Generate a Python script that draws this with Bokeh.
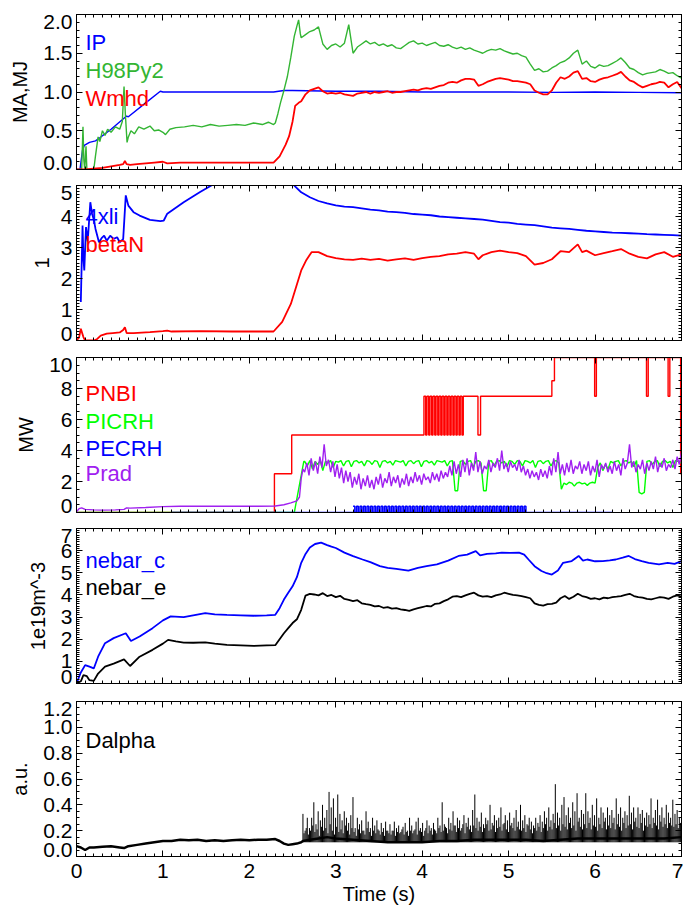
import numpy as np
from bokeh.plotting import figure
from bokeh.layouts import column
from bokeh.models import (Range1d, Label, LinearAxis, FixedTicker,
                          NumeralTickFormatter)
from bokeh.embed import file_html
from bokeh.resources import INLINE

# ------------------------------------------------------------------ data
# Panel 1 (MA,MJ)
ip = [(0.0, 0.0), (0.04, 0.0), (0.07, 0.25), (0.09, 0.31), (0.15, 0.35), (0.22, 0.37),
      (0.27, 0.41), (0.4, 0.52), (0.58, 0.69), (0.6, 0.68), (0.8, 0.86), (0.97, 1.01),
      (1.0, 1.0), (1.5, 1.0), (2.0, 1.0), (2.28, 1.0), (2.4, 1.02), (2.5, 1.02), (3.0, 1.01),
      (3.5, 1.01), (4.0, 1.0), (4.5, 1.0), (5.0, 1.0), (5.5, 0.995), (6.0, 1.0), (6.5, 0.995),
      (7.0, 0.99)]
h98_early = [(0.0, 0.0), (0.06, 0.0), (0.075, 0.55), (0.085, 0.12), (0.095, 0.0), (0.11, 0.3),
             (0.12, 0.0), (0.2, 0.0), (0.22, 0.18), (0.25, 0.42), (0.27, 0.36), (0.3, 0.5),
             (0.33, 0.44), (0.36, 0.52), (0.4, 0.48), (0.45, 0.55), (0.5, 0.52), (0.53, 0.62),
             (0.55, 1.07), (0.565, 0.72), (0.585, 0.35), (0.6, 0.42), (0.63, 0.5), (0.67, 0.46),
             (0.72, 0.55), (0.78, 0.52), (0.85, 0.56), (0.9, 0.5), (0.95, 0.51), (1.0, 0.48),
             (1.03, 0.45), (1.08, 0.52), (1.15, 0.54), (1.25, 0.55), (1.35, 0.57), (1.45, 0.55),
             (1.55, 0.58), (1.65, 0.56), (1.75, 0.57), (1.85, 0.58), (1.95, 0.57), (2.05, 0.6),
             (2.15, 0.58), (2.22, 0.61), (2.28, 0.58), (2.3, 0.6), (2.33, 0.72), (2.36, 0.86),
             (2.4, 1.02), (2.44, 1.2), (2.48, 1.45), (2.52, 1.72), (2.55, 1.85), (2.57, 1.93),
             (2.59, 1.75)]
h98_late = [1.70, 1.74, 1.78, 1.80, 1.84, 1.62, 1.55, 1.60, 1.62, 1.58,
            1.63, 1.87, 1.50, 1.58, 1.62, 1.66, 1.62, 1.64, 1.60, 1.62,
            1.59, 1.61, 1.57, 1.56, 1.60, 1.64, 1.66, 1.62, 1.63, 1.60,
            1.62, 1.64, 1.60, 1.59, 1.61, 1.58, 1.56, 1.58, 1.55, 1.57,
            1.54, 1.52, 1.50, 1.53, 1.55, 1.54, 1.56, 1.53, 1.51, 1.49,
            1.50, 1.47, 1.45, 1.36, 1.28, 1.30, 1.26, 1.27, 1.31, 1.34,
            1.38, 1.40, 1.44, 1.50, 1.54, 1.36, 1.40, 1.33, 1.31, 1.35,
            1.33, 1.34, 1.37, 1.40, 1.44, 1.38, 1.31, 1.29, 1.25, 1.22,
            1.24, 1.25, 1.26, 1.29, 1.27, 1.24, 1.25, 1.21, 1.18]
wmhd_early = [(0.0, 0.0), (0.1, 0.0), (0.2, 0.01), (0.3, 0.02), (0.4, 0.04), (0.5, 0.06),
              (0.54, 0.07), (0.56, 0.11), (0.58, 0.07), (0.62, 0.06), (0.7, 0.07), (0.8, 0.08),
              (0.9, 0.09), (1.0, 0.1), (1.05, 0.08), (1.2, 0.09), (1.5, 0.09), (1.8, 0.09),
              (2.1, 0.09), (2.28, 0.09), (2.35, 0.17), (2.42, 0.32), (2.46, 0.43), (2.5, 0.62),
              (2.53, 0.82), (2.57, 0.86)]
wmhd_late = [0.88, 0.97, 1.02, 1.04, 1.06, 1.01, 0.98, 0.99, 0.98, 0.99,
             0.97, 0.96, 0.95, 0.98, 0.99, 1.00, 0.98, 1.00, 0.99, 1.00,
             1.01, 0.99, 1.00, 1.00, 1.01, 1.02, 1.03, 1.02, 1.04, 1.05,
             1.04, 1.06, 1.08, 1.09, 1.12, 1.13, 1.12, 1.15, 1.17, 1.17,
             1.16, 1.08, 1.10, 1.13, 1.15, 1.17, 1.18, 1.17, 1.16, 1.14,
             1.14, 1.13, 1.12, 1.10, 1.02, 0.99, 0.97, 0.97, 1.02, 1.12,
             1.19, 1.17, 1.20, 1.25, 1.27, 1.17, 1.18, 1.14, 1.13, 1.16,
             1.18, 1.19, 1.21, 1.23, 1.26, 1.20, 1.15, 1.13, 1.09, 1.06,
             1.08, 1.10, 1.11, 1.13, 1.12, 1.06, 1.10, 1.13, 1.05]

# Panel 2 (1)
xli_early = [(0.05, 1.24), (0.07, 3.71), (0.08, 2.65), (0.09, 2.26), (0.11, 3.66), (0.13, 3.2),
             (0.16, 4.46), (0.18, 4.09), (0.2, 3.9), (0.22, 3.6), (0.26, 3.17), (0.29, 3.3),
             (0.32, 3.38), (0.35, 3.22), (0.39, 3.38), (0.43, 3.28), (0.47, 3.33), (0.5, 3.17),
             (0.54, 3.27), (0.57, 4.68), (0.6, 4.35), (0.66, 4.14), (0.73, 4.03), (0.85, 3.89),
             (0.97, 3.85), (1.01, 3.87), (1.05, 4.09), (1.24, 4.46), (1.43, 4.79), (1.56, 5.0),
             (1.8, 5.4), (2.1, 5.7), (2.3, 5.8), (2.4, 5.6)]
xli_late = [5.05, 4.78, 4.62, 4.50, 4.42, 4.36, 4.32, 4.30, 4.26, 4.22,
            4.20, 4.16, 4.14, 4.12, 4.08, 4.06, 4.04, 4.00, 3.98, 3.96,
            3.94, 3.92, 3.90, 3.86, 3.82, 3.80, 3.76, 3.74, 3.72, 3.68,
            3.64, 3.62, 3.60, 3.57, 3.54, 3.52, 3.50, 3.48, 3.47, 3.46,
            3.45, 3.43, 3.42, 3.41, 3.40, 3.38]
betan = [(0.0, 0.0), (0.03, 0.1), (0.05, 0.38), (0.08, 0.11), (0.1, 0.0), (0.2, 0.0),
         (0.24, 0.05), (0.28, 0.16), (0.35, 0.22), (0.42, 0.24), (0.5, 0.26), (0.54, 0.34),
         (0.56, 0.43), (0.58, 0.24), (0.66, 0.24), (0.85, 0.27), (1.0, 0.3), (1.05, 0.32),
         (1.1, 0.29), (1.43, 0.3), (1.8, 0.29), (2.1, 0.29), (2.28, 0.29), (2.38, 0.6),
         (2.48, 1.18), (2.6, 2.26), (2.66, 2.6), (2.72, 2.85), (2.8, 2.85), (2.9, 2.72),
         (3.0, 2.66), (3.1, 2.62), (3.2, 2.6), (3.3, 2.64), (3.4, 2.6), (3.5, 2.63), (3.6, 2.58),
         (3.7, 2.62), (3.8, 2.65), (3.9, 2.6), (4.0, 2.66), (4.1, 2.7), (4.2, 2.72), (4.3, 2.78),
         (4.4, 2.8), (4.5, 2.85), (4.6, 2.8), (4.65, 2.62), (4.7, 2.75), (4.8, 2.85), (4.9, 2.9),
         (5.0, 2.85), (5.1, 2.82), (5.2, 2.72), (5.3, 2.45), (5.4, 2.5), (5.5, 2.62), (5.6, 2.88),
         (5.7, 2.85), (5.8, 3.1), (5.85, 2.85), (5.9, 2.9), (6.0, 2.75), (6.1, 2.82), (6.2, 2.88),
         (6.3, 2.95), (6.4, 2.8), (6.5, 2.7), (6.6, 2.65), (6.7, 2.78), (6.8, 2.85), (6.9, 2.7),
         (7.0, 2.78)]

# Panel 3 (MW)
pnbi_t = [0.0, 2.29, 2.49, 4.02, 4.04, 4.055, 4.075, 4.09, 4.11, 4.125, 4.145, 4.16, 4.18,
          4.195, 4.215, 4.23, 4.25, 4.265, 4.285, 4.30, 4.32, 4.335, 4.355, 4.37, 4.39,
          4.405, 4.425, 4.44, 4.46, 4.475, 4.645, 4.675, 5.50, 5.53, 5.995, 6.015, 6.595,
          6.615, 6.845, 6.865, 6.99, 7.0]
pnbi_v = [0.0, 2.5, 5.0, 7.5, 5.0, 7.5, 5.0, 7.5, 5.0, 7.5, 5.0, 7.5, 5.0,
          7.5, 5.0, 7.5, 5.0, 7.5, 5.0, 7.5, 5.0, 7.5, 5.0, 7.5, 5.0,
          7.5, 5.0, 7.5, 5.0, 7.5, 5.0, 7.5, 8.5, 10.0, 7.5, 10.0, 7.5,
          10.0, 7.5, 10.0, 2.5, 2.5]
picrh_early = [(0.0, 0.0), (1.1, 0.0), (2.52, 0.0), (2.58, 1.8), (2.63, 3.3)]
picrh_late = [3.3, 3.0, 3.35, 2.8, 3.3, 3.1, 3.35, 2.7, 3.3, 3.2,
              3.35, 2.9, 3.3, 3.25, 3.35, 3.0, 3.3, 3.35, 2.95, 3.3,
              3.35, 3.2, 3.3, 3.0, 3.35, 3.3, 3.1, 3.35, 3.3, 2.9,
              3.3, 3.35, 3.2, 3.3, 3.05, 3.35, 3.3, 3.25, 3.35, 3.0,
              3.3, 3.35, 3.15, 3.3, 3.35, 2.95, 3.3, 3.35, 3.2, 3.3,
              3.05, 3.35, 3.3, 3.25, 3.35, 3.0, 3.3, 3.35, 1.4, 1.4,
              3.3, 3.35, 3.1, 3.3, 3.35, 2.9, 3.3, 3.35, 3.2, 1.4,
              1.4, 3.3, 3.35, 3.0, 3.3, 3.35, 3.2, 3.3, 2.95, 3.35,
              3.3, 3.1, 3.35, 3.3, 3.0, 3.35, 3.3, 3.2, 3.35, 2.9,
              3.3, 3.35, 3.15, 3.3, 3.35, 3.0, 3.3, 3.35, 3.2, 1.5,
              1.9, 1.8, 1.95, 1.9, 1.7, 1.9, 1.95, 1.85, 1.9, 1.75,
              1.9, 1.95, 1.9, 2.9, 3.2, 2.7, 3.1, 2.8, 3.3, 3.2,
              3.3, 3.35, 3.0, 3.3, 3.35, 3.2, 3.3, 2.95, 3.35, 1.3,
              1.2, 1.3, 3.3, 3.35, 3.1, 3.3, 3.35, 2.95, 3.3, 3.35,
              3.2, 3.3, 2.9, 3.35, 3.3, 3.2]
pecrh_base = [(1.1, 0.0), (3.2, 0.0), (5.2, 0.0), (6.2, 0.0)]
pecrh_mod = [0.4, 0.0, 0.4, 0.0, 0.4, 0.0, 0.4, 0.0, 0.4, 0.0,
             0.4, 0.0, 0.4, 0.0, 0.4, 0.0, 0.4, 0.0, 0.4, 0.0,
             0.4, 0.0, 0.4, 0.0, 0.4, 0.0, 0.4, 0.0, 0.4, 0.0,
             0.4, 0.0, 0.4, 0.0, 0.4, 0.0, 0.4, 0.0, 0.4, 0.0,
             0.4, 0.0, 0.4, 0.0, 0.4, 0.0, 0.4, 0.0, 0.4, 0.0,
             0.4, 0.0, 0.4, 0.0, 0.4, 0.0, 0.4, 0.0, 0.4, 0.0,
             0.4, 0.0, 0.4, 0.0, 0.4, 0.0, 0.4, 0.0, 0.4, 0.0,
             0.4, 0.0, 0.4, 0.0, 0.4, 0.0, 0.4, 0.0, 0.4, 0.0,
             0.4, 0.0, 0.4, 0.0, 0.4, 0.0, 0.4, 0.0, 0.4, 0.0,
             0.4, 0.0, 0.4, 0.0, 0.4, 0.0, 0.4, 0.0, 0.4, 0.0]
prad_early = [(0.0, 0.05), (0.03, 0.25), (0.06, 0.3), (0.1, 0.2), (0.2, 0.17), (0.3, 0.15),
              (0.45, 0.17), (0.55, 0.2), (0.58, 0.3), (0.62, 0.28), (0.8, 0.32), (1.0, 0.38),
              (1.2, 0.4), (1.5, 0.4), (1.8, 0.4), (2.1, 0.4), (2.3, 0.42), (2.4, 0.5),
              (2.48, 0.62), (2.55, 0.75), (2.58, 1.0), (2.6, 2.2), (2.62, 2.8)]
prad_late = [2.6, 3.2, 2.4, 3.5, 2.7, 3.3, 2.5, 3.6, 2.9, 4.4,
             3.0, 3.4, 2.6, 3.3, 2.3, 3.1, 2.2, 2.9, 1.9, 2.7,
             2.0, 2.6, 1.6, 2.3, 1.8, 2.5, 1.5, 2.2, 1.7, 2.4,
             1.6, 2.1, 1.5, 2.3, 1.8, 2.5, 1.6, 2.2, 1.9, 2.6,
             1.7, 2.3, 1.9, 2.4, 1.6, 2.2, 1.8, 2.5, 1.7, 2.3,
             1.9, 2.6, 2.0, 2.4, 1.8, 2.5, 2.1, 2.3, 1.9, 2.6,
             2.1, 2.5, 2.0, 2.7, 2.2, 2.6, 2.3, 3.0, 2.4, 3.3,
             2.5, 3.1, 2.3, 3.4, 2.6, 3.5, 2.4, 3.2, 2.7, 3.9,
             2.6, 3.3, 2.5, 3.0, 2.8, 3.4, 2.6, 3.2, 2.9, 3.5,
             2.7, 4.0, 2.8, 3.2, 2.6, 3.3, 2.9, 3.1, 2.7, 3.4,
             2.6, 3.0, 2.4, 2.8, 2.2, 2.7, 2.3, 2.6, 2.1, 2.8,
             2.3, 2.7, 2.2, 3.0, 2.4, 3.5, 2.6, 3.9, 2.5, 3.1,
             2.4, 3.2, 2.6, 3.4, 2.5, 3.0, 2.8, 3.3, 2.5, 3.1,
             2.7, 3.3, 2.4, 3.0, 2.6, 3.4, 2.3, 3.1, 2.8, 3.2,
             2.6, 3.0, 2.5, 3.3, 2.7, 3.1, 2.4, 3.5, 2.8, 3.2,
             4.4, 2.9, 3.3, 2.6, 3.1, 2.8, 3.4, 2.5, 3.2, 2.7,
             3.3, 2.8, 3.6, 2.6, 3.2, 2.9, 3.5, 2.7, 3.1, 2.9,
             3.4, 2.8, 3.6, 3.1, 3.9]

# Panel 4 (1e19m^-3)
nebar_c = [(0.0, 0.0), (0.05, 0.5), (0.1, 0.83), (0.15, 0.76), (0.2, 0.68), (0.25, 1.21),
           (0.33, 1.82), (0.43, 2.05), (0.57, 2.27), (0.63, 1.92), (0.73, 2.12), (0.88, 2.5),
           (1.0, 2.85), (1.09, 3.03), (1.24, 3.0), (1.35, 3.08), (1.49, 3.18), (1.6, 3.12),
           (1.74, 3.1), (1.9, 3.08), (2.05, 3.06), (2.2, 3.08), (2.3, 3.1), (2.35, 3.4),
           (2.4, 3.79), (2.45, 4.1), (2.5, 4.39), (2.55, 4.8), (2.6, 5.45), (2.65, 5.85),
           (2.7, 6.14), (2.76, 6.3), (2.83, 6.36), (2.9, 6.25), (2.95, 6.18), (3.0, 6.12),
           (3.1, 5.91), (3.2, 5.75), (3.31, 5.6), (3.4, 5.48), (3.51, 5.3), (3.6, 5.22),
           (3.7, 5.18), (3.84, 5.1), (3.95, 5.22), (4.05, 5.3), (4.17, 5.38), (4.3, 5.55),
           (4.42, 5.76), (4.52, 5.82), (4.62, 5.98), (4.67, 5.79), (4.75, 5.85), (4.85, 5.88),
           (4.92, 5.91), (5.02, 5.9), (5.12, 5.91), (5.18, 5.82), (5.23, 5.6), (5.3, 5.3),
           (5.38, 5.08), (5.44, 4.98), (5.5, 4.92), (5.57, 5.1), (5.63, 5.45), (5.73, 5.53),
           (5.81, 5.76), (5.86, 5.55), (5.91, 5.6), (6.0, 5.52), (6.09, 5.53), (6.17, 5.56),
           (6.24, 5.6), (6.32, 5.68), (6.39, 5.76), (6.46, 5.62), (6.54, 5.53), (6.62, 5.45),
           (6.74, 5.38), (6.84, 5.45), (6.92, 5.4), (7.0, 5.53)]
nebar_e_early = [(0.0, 0.0), (0.05, 0.1), (0.08, 0.38), (0.12, 0.33), (0.15, 0.15), (0.2, 0.12),
                 (0.25, 0.45), (0.33, 0.76), (0.43, 0.9), (0.55, 1.09), (0.62, 0.79),
                 (0.73, 1.21), (0.88, 1.52), (1.0, 1.8), (1.06, 1.97), (1.15, 1.9), (1.24, 1.85),
                 (1.35, 1.84), (1.49, 1.86), (1.6, 1.8), (1.74, 1.74), (1.9, 1.72), (2.05, 1.7),
                 (2.2, 1.72), (2.3, 1.73), (2.35, 2.0), (2.4, 2.27), (2.45, 2.5), (2.5, 2.73),
                 (2.55, 2.9), (2.6, 3.33), (2.65, 3.97)]
nebar_e_late = [4.05, 4.02, 3.98, 4.08, 3.95, 4.00, 3.90, 3.96, 3.82, 3.78,
                3.72, 3.76, 3.62, 3.58, 3.55, 3.48, 3.50, 3.42, 3.45, 3.38,
                3.40, 3.35, 3.32, 3.28, 3.35, 3.40, 3.45, 3.50, 3.48, 3.60,
                3.62, 3.72, 3.80, 3.92, 3.95, 3.90, 3.98, 4.05, 4.10, 3.98,
                3.92, 3.95, 3.90, 3.98, 4.02, 4.10, 4.05, 4.00, 3.98, 3.95,
                3.90, 3.85, 3.62, 3.55, 3.52, 3.58, 3.60, 3.65, 3.85, 3.95,
                3.82, 3.92, 4.05, 3.95, 3.90, 3.82, 3.85, 3.80, 3.88, 3.85,
                3.90, 3.92, 3.95, 4.00, 4.05, 3.95, 3.90, 3.88, 3.82, 3.80,
                3.85, 3.90, 3.88, 3.82, 3.92, 3.98, 3.92]

# Panel 5 (a.u.)
dalpha_base = [(0.0, 0.08), (0.05, 0.07), (0.1, 0.05), (0.15, 0.07), (0.2, 0.07), (0.3, 0.075),
               (0.4, 0.08), (0.5, 0.07), (0.55, 0.065), (0.6, 0.08), (0.7, 0.09), (0.8, 0.1),
               (0.9, 0.11), (1.0, 0.12), (1.1, 0.12), (1.2, 0.13), (1.3, 0.125), (1.4, 0.13),
               (1.5, 0.12), (1.6, 0.125), (1.7, 0.12), (1.8, 0.125), (1.9, 0.13), (2.0, 0.125),
               (2.1, 0.13), (2.2, 0.13), (2.3, 0.135), (2.35, 0.12), (2.4, 0.1), (2.45, 0.09),
               (2.5, 0.095), (2.55, 0.1), (2.6, 0.11), (2.62, 0.12), (2.7, 0.13), (2.8, 0.14),
               (2.9, 0.15), (3.0, 0.14), (3.2, 0.13), (3.4, 0.12), (3.6, 0.11), (3.8, 0.11),
               (4.0, 0.11), (4.2, 0.12), (4.4, 0.12), (4.6, 0.13), (4.8, 0.13), (5.0, 0.13),
               (5.2, 0.13), (5.4, 0.12), (5.6, 0.13), (5.8, 0.14), (6.0, 0.14), (6.2, 0.14),
               (6.4, 0.14), (6.6, 0.14), (6.8, 0.14), (7.0, 0.15)]
dalpha_spikes = [0.33, 0.2, 0.3, 0.22, 0.3, 0.42, 0.25, 0.35, 0.28, 0.4,
                 0.3, 0.36, 0.5, 0.38, 0.45, 0.3, 0.48, 0.33, 0.28, 0.35,
                 0.3, 0.26, 0.32, 0.46, 0.22, 0.3, 0.25, 0.28, 0.2, 0.35,
                 0.27, 0.22, 0.3, 0.24, 0.28, 0.2, 0.26, 0.22, 0.27, 0.2,
                 0.25, 0.2, 0.27, 0.22, 0.24, 0.19, 0.23, 0.26, 0.2, 0.3,
                 0.24, 0.2, 0.27, 0.3, 0.22, 0.26, 0.2, 0.28, 0.24, 0.22,
                 0.26, 0.2, 0.3, 0.24, 0.42, 0.25, 0.22, 0.3, 0.26, 0.35,
                 0.24, 0.3, 0.28, 0.22, 0.32, 0.26, 0.3, 0.24, 0.36, 0.48,
                 0.3, 0.27, 0.34, 0.25, 0.3, 0.28, 0.4, 0.26, 0.32, 0.28,
                 0.3, 0.38, 0.25, 0.32, 0.28, 0.34, 0.26, 0.3, 0.36, 0.27,
                 0.4, 0.28, 0.32, 0.25, 0.3, 0.27, 0.24, 0.3, 0.26, 0.32,
                 0.27, 0.35, 0.3, 0.38, 0.28, 0.33, 0.56, 0.34, 0.3, 0.4,
                 0.46, 0.32, 0.38, 0.3, 0.42, 0.35, 0.49, 0.3, 0.36, 0.33,
                 0.49, 0.35, 0.3, 0.4, 0.32, 0.45, 0.3, 0.38, 0.34, 0.3,
                 0.38, 0.32, 0.36, 0.3, 0.45, 0.33, 0.38, 0.3, 0.35, 0.32,
                 0.47, 0.34, 0.38, 0.3, 0.38, 0.33, 0.36, 0.3, 0.34, 0.32,
                 0.45, 0.3, 0.36, 0.44, 0.32, 0.38, 0.3, 0.4, 0.34, 0.3,
                 0.44, 0.33, 0.36, 0.3, 0.35]
dalpha_fuzz = [0.18, 0.22, 0.17, 0.2, 0.24, 0.19, 0.21, 0.16, 0.23, 0.2,
               0.22, 0.18, 0.25, 0.2, 0.17, 0.23, 0.19, 0.21, 0.18, 0.24,
               0.2, 0.17, 0.22, 0.19, 0.16, 0.21, 0.18, 0.2, 0.17, 0.22,
               0.19, 0.16, 0.2, 0.18, 0.21, 0.17, 0.19, 0.16, 0.2, 0.18,
               0.17, 0.2, 0.16, 0.19, 0.18, 0.21, 0.17, 0.19, 0.16, 0.2,
               0.18, 0.21, 0.17, 0.2, 0.19, 0.16, 0.22, 0.18, 0.2, 0.17,
               0.21, 0.18, 0.22, 0.19, 0.2, 0.23, 0.18, 0.21, 0.2, 0.24,
               0.19, 0.22, 0.2, 0.25, 0.18, 0.23, 0.21, 0.19, 0.24, 0.22,
               0.2, 0.23, 0.19, 0.22, 0.25, 0.2, 0.21, 0.24, 0.19, 0.22,
               0.23, 0.2, 0.26, 0.21, 0.19, 0.24, 0.22, 0.2, 0.23, 0.21,
               0.2, 0.22, 0.19, 0.24, 0.21, 0.18, 0.22, 0.2, 0.23, 0.19,
               0.22, 0.25, 0.2, 0.23, 0.21, 0.26, 0.22, 0.24, 0.2, 0.25,
               0.23, 0.21, 0.26, 0.22, 0.24, 0.2, 0.27, 0.23, 0.21, 0.25,
               0.22, 0.26, 0.21, 0.24, 0.23, 0.2, 0.25, 0.22, 0.27, 0.21,
               0.24, 0.22, 0.26, 0.21, 0.25, 0.23, 0.2, 0.26, 0.22, 0.24,
               0.25, 0.21, 0.27, 0.23, 0.22, 0.26, 0.2, 0.24, 0.23, 0.25,
               0.22, 0.26, 0.24, 0.21, 0.27, 0.23, 0.25, 0.22, 0.26, 0.24,
               0.23, 0.25, 0.22, 0.26]

x_ticks = [0, 1, 2, 3, 4, 5, 6, 7]
x_tick_labels = ["0", "1", "2", "3", "4", "5", "6", "7"]
panel_ylabels = ["MA,MJ", "1", "MW", "1e19m^-3", "a.u."]
panel_yticks = [[0.0, 0.5, 1.0, 1.5, 2.0], [0, 1, 2, 3, 4, 5], [0, 2, 4, 6, 8, 10],
                [0, 1, 2, 3, 4, 5, 6, 7], [0.0, 0.2, 0.4, 0.6, 0.8, 1.0, 1.2]]
panel_yticklabels = [["0.0", "0.5", "1.0", "1.5", "2.0"], ["0", "1", "2", "3", "4", "5"],
                     ["0", "2", "4", "6", "8", "10"], ["0", "1", "2", "3", "4", "5", "6", "7"],
                     ["0.0", "0.2", "0.4", "0.6", "0.8", "1.0", "1.2"]]
panel_yminor = [5, 10, 4, 10, 4]
legend_names = [["IP", "H98Py2", "Wmhd"], ["4xli", "betaN"],
                ["PNBI", "PICRH", "PECRH", "Prad"], ["nebar_c", "nebar_e"], ["Dalpha"]]
legend_colors = [["#0000ff", "#33b533", "#ff0000"], ["#0000ff", "#ff0000"],
                 ["#ff0000", "#00ff00", "#0000ff", "#a020f0"], ["#0000ff", "#000000"],
                 ["#000000"]]
legend_offsets = [[28, 56, 84], [31, 59], [36, 64, 91, 116], [32, 59], [39]]


# ------------------------------------------------------------------ helpers
def unzip(pairs):
    return [a for a, _ in pairs], [b for _, b in pairs]


def grid(t0, t1, vals):
    return list(np.linspace(t0, t1, len(vals)))


def minor_positions(ticks, n):
    out = []
    for a, b in zip(ticks[:-1], ticks[1:]):
        out += list(np.linspace(a, b, n + 1)[:-1])
    return out + [ticks[-1]]


FONT = "Liberation Sans"
TICK_FS = "21px"
AXLABEL_FS = "20px"
LEGEND_FS = "22px"
FRAME_W, FRAME_H = 605, 155
END_NUDGE = 7  # px: the two end tick labels sit inside the frame height
borders = [(14, 8), (8, 8), (9, 7), (9, 9), (9, 52)]
xr = Range1d(0, 7)


def style_axis(ax, ticker, show_labels):
    ax.ticker = ticker
    ax.axis_line_color = "black"
    ax.axis_line_width = 1
    ax.major_tick_line_color = "black"
    ax.minor_tick_line_color = "black"
    ax.major_tick_in = 6
    ax.major_tick_out = 0
    ax.minor_tick_in = 3
    ax.minor_tick_out = 0
    ax.major_label_text_font = FONT
    ax.major_label_text_font_size = TICK_FS
    if show_labels:
        ax.major_label_text_color = "black"
    else:
        ax.major_label_text_color = None
        ax.major_label_text_font_size = "1px"
        ax.major_label_standoff = 0
    ax.axis_label_text_font = FONT
    ax.axis_label_text_font_size = AXLABEL_FS
    ax.axis_label_text_font_style = "normal"
    ax.axis_label_text_color = "black"


figs = []
for k in range(5):
    yt = panel_yticks[k]
    lo, hi = yt[0], yt[-1]
    top_b, bot_b = borders[k]
    p = figure(frame_width=FRAME_W, frame_height=FRAME_H, x_range=xr,
               y_range=Range1d(lo, hi), min_border_left=76, min_border_right=2,
               min_border_top=top_b, min_border_bottom=bot_b,
               output_backend="svg", toolbar_location=None)
    p.xgrid.visible = False
    p.ygrid.visible = False
    p.outline_line_color = "black"
    p.outline_line_width = 1
    p.background_fill_color = "white"
    p.border_fill_color = "white"
    last = k == 4
    xminor = minor_positions(x_ticks, 10)
    yminor = minor_positions(yt, panel_yminor[k])

    style_axis(p.xaxis[0], FixedTicker(ticks=x_ticks, minor_ticks=xminor), last)
    if last:
        p.xaxis[0].axis_label = "Time (s)"
        p.xaxis[0].major_label_standoff = 7
        p.xaxis[0].axis_label_standoff = 2
        p.xaxis[0].major_label_overrides = {t: s for t, s in zip(x_ticks, x_tick_labels)}

    # left: tick marks only (next to the frame)
    ly = p.yaxis[0]
    style_axis(ly, FixedTicker(ticks=yt, minor_ticks=yminor), False)
    # left: labels only; the two end labels are nudged inside the frame height
    span = hi - lo
    pos = ([lo + END_NUDGE / FRAME_H * span] + list(yt[1:-1])
           + [hi - END_NUDGE / FRAME_H * span])
    la = LinearAxis(axis_label=panel_ylabels[k])
    style_axis(la, FixedTicker(ticks=pos, minor_ticks=[]), True)
    la.axis_line_color = None
    la.major_tick_in = 0
    la.minor_tick_in = 0
    la.major_label_standoff = 4
    la.axis_label_standoff = 9
    la.formatter = NumeralTickFormatter(format="0.0" if "." in panel_yticklabels[k][0] else "0")
    la.major_label_overrides = {float(q): s for q, s in zip(pos, panel_yticklabels[k])}
    p.add_layout(la, "left")

    ra = LinearAxis()
    style_axis(ra, FixedTicker(ticks=yt, minor_ticks=yminor), False)
    p.add_layout(ra, "right")
    ta = LinearAxis()
    style_axis(ta, FixedTicker(ticks=x_ticks, minor_ticks=xminor), False)
    p.add_layout(ta, "above")
    # legend labels
    for name, col, off in zip(legend_names[k], legend_colors[k], legend_offsets[k]):
        yy = hi - off / FRAME_H * span
        p.add_layout(Label(x=9 / FRAME_W * 7, y=yy, text=name, text_color=col,
                           text_font=FONT, text_font_size=LEGEND_FS, text_baseline="middle"))
    figs.append(p)

LW = 1.4
# Panel 1
p = figs[0]
t, v = unzip(ip)
p.line(t, v, line_color="#0000ff", line_width=LW)
t, v = unzip(h98_early)
p.line(t + grid(2.6, 7.0, h98_late), v + h98_late, line_color="#33b533", line_width=LW)
t, v = unzip(wmhd_early)
p.line(t + grid(2.6, 7.0, wmhd_late), v + wmhd_late, line_color="#ff0000", line_width=1.8)

# Panel 2
p = figs[1]
t, v = unzip(xli_early)
p.line(t + grid(2.5, 7.0, xli_late), v + xli_late, line_color="#0000ff", line_width=1.8)
t, v = unzip(betan)
p.line(t, v, line_color="#ff0000", line_width=1.8)

# Panel 3
p = figs[2]
p.step(pnbi_t, pnbi_v, mode="after", line_color="#ff0000", line_width=LW)
t, v = unzip(picrh_early)
p.line(t + grid(2.64, 6.99, picrh_late), v + picrh_late, line_color="#00ff00", line_width=LW)
t, v = unzip(pecrh_base)
p.line(t, v, line_color="#0000ff", line_width=LW)
p.step(grid(3.2, 5.2, pecrh_mod), pecrh_mod, mode="after", line_color="#0000ff", line_width=1.5)
t, v = unzip(prad_early)
p.line(t + grid(2.64, 7.0, prad_late), v + prad_late, line_color="#a020f0", line_width=LW)

# Panel 4
p = figs[3]
t, v = unzip(nebar_c)
p.line(t, v, line_color="#0000ff", line_width=1.8)
t, v = unzip(nebar_e_early)
p.line(t + grid(2.7, 7.0, nebar_e_late), v + nebar_e_late, line_color="#000000", line_width=1.8)

# Panel 5
p = figs[4]
ts = grid(2.62, 7.0, dalpha_spikes)
p.segment(x0=ts, y0=0.11, x1=ts, y1=dalpha_spikes, line_color="#000000", line_width=1)
h = (7.0 - 2.62) / (len(dalpha_spikes) - 1)
tf = grid(2.62 + h / 2, 7.0 - h / 2, dalpha_fuzz)
p.segment(x0=tf, y0=0.11, x1=tf, y1=dalpha_fuzz, line_color="#000000", line_width=1)
t, v = unzip(dalpha_base)
p.line(t, v, line_color="#000000", line_width=2.5)

layout = column(*figs, spacing=0)
open("out.html", "w").write(file_html(layout, INLINE))
